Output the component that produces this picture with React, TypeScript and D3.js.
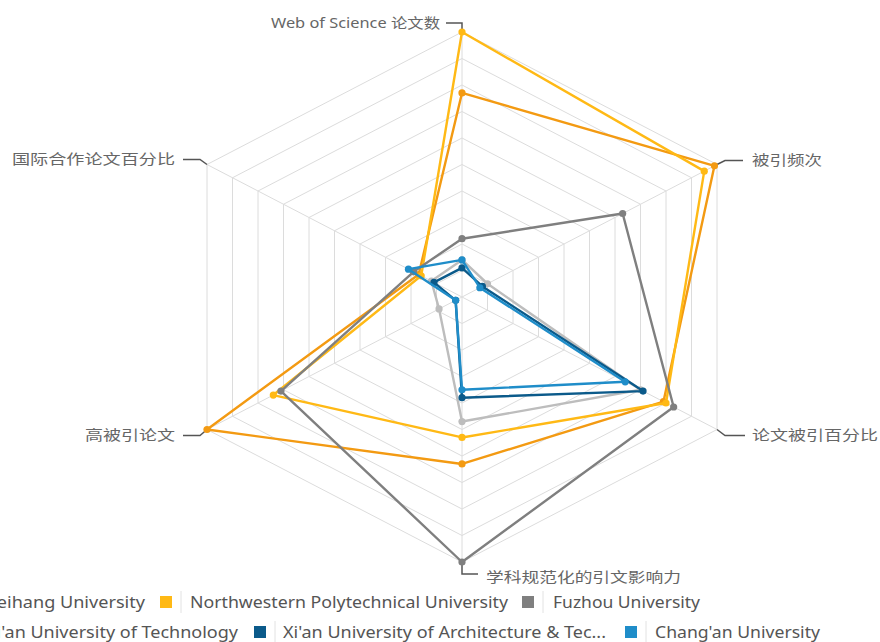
import React from "react";
import * as d3 from "d3";

const axes = ["Web of Science 论文数", "被引频次", "论文被引百分比", "学科规范化的引文影响力", "高被引论文", "国际合作论文百分比"];
const seriesNames = [
  "Beihang University",
  "Northwestern Polytechnical University",
  "Fuzhou University",
  "Xi'an University of Technology",
  "Xi'an University of Architecture & Tec...",
  "Chang'an University",
];
const seriesColors = ["#F39A12", "#FFB915", "#7F7F7F", "#BDBDBD", "#0B5A8A", "#1F8DC9"];
const beihang = [0.77, 0.99, 0.79, 0.63, 1.0, 0.17];
const nwpu = [1.0, 0.95, 0.8, 0.53, 0.74, 0.16];
const fuzhou = [0.22, 0.63, 0.83, 1.0, 0.71, 0.19];
const xianTech = [0.14, 0.1, 0.7, 0.47, 0.09, 0.12];
const xianArch = [0.11, 0.08, 0.71, 0.38, 0.025, 0.11];
const changan = [0.14, 0.07, 0.64, 0.35, 0.025, 0.21];
const seriesValues = [beihang, nwpu, fuzhou, xianTech, xianArch, changan];
const ringLevels = d3.range(1, 11).map((i) => i / 10);

const W = 880;
const H = 642;
const cx = 462;
const cy = 297;
const xr = d3.scaleLinear().domain([0, 1]).range([0, 255 / Math.sin(Math.PI / 3)]);
const yr = d3.scaleLinear().domain([0, 1]).range([0, 265]);
const angle = (i: number) => (i * Math.PI * 2) / axes.length;
const px = (i: number, v: number) => cx + xr(v) * Math.sin(angle(i));
const py = (i: number, v: number) => cy - yr(v) * Math.cos(angle(i));

const FONT = "'Noto Sans', 'Noto Sans CJK SC', sans-serif";

const labelCfg = [
  { lead: (x: number, y: number) => `M${x},${y}V${y - 9}H${x - 16}`, tx: -22, ty: -9, anchor: "end", w: 169 },
  { lead: (x: number, y: number) => `M${x},${y}L${x + 8},${y - 4}H${x + 26}`, tx: 35, ty: -4, anchor: "start", w: 70 },
  { lead: (x: number, y: number) => `M${x},${y}L${x + 8},${y + 6}H${x + 28}`, tx: 35, ty: 6, anchor: "start", w: 126 },
  { lead: (x: number, y: number) => `M${x},${y}V${y + 12}H${x + 16}`, tx: 24, ty: 15, anchor: "start", w: 195 },
  { lead: (x: number, y: number) => `M${x},${y}L${x - 7},${y + 6}H${x - 24}`, tx: -32, ty: 6, anchor: "end", w: 90 },
  { lead: (x: number, y: number) => `M${x},${y}L${x - 7},${y - 5}H${x - 24}`, tx: -32, ty: -5, anchor: "end", w: 163 },
];

const legendRows = [
  [
    { idx: 0, mx: -45, tx: 145, anchor: "end", w: 160 },
    { idx: 1, mx: 160, tx: 190, anchor: "start", w: 318 },
    { idx: 2, mx: 522, tx: 553, anchor: "start", w: 147 },
  ],
  [
    { idx: 3, mx: -45, tx: 238, anchor: "end", w: 252 },
    { idx: 4, mx: 254, tx: 283, anchor: "start", w: 323 },
    { idx: 5, mx: 625, tx: 655, anchor: "start", w: 165 },
  ],
];
const legendY = [602, 632];

export default function App() {
  const line = d3
    .line<number>()
    .x((v, i) => px(i, v))
    .y((v, i) => py(i, v))
    .curve(d3.curveLinearClosed);
  const ring = (lv: number) => line(axes.map(() => lv)) as string;

  return (
    <svg width={W} height={H} style={{ position: "absolute", left: 0, top: 0, background: "#fff" }} fontFamily={FONT}>
      <g>
        {ringLevels.map((lv) => (
          <path key={lv} d={ring(lv)} fill="none" stroke="#DCDCDC" strokeWidth={1} />
        ))}
        {axes.map((_, i) => (
          <line key={i} x1={cx} y1={cy} x2={px(i, 1)} y2={py(i, 1)} stroke="#DCDCDC" strokeWidth={1} />
        ))}
      </g>
      <g>
        {axes.map((name, i) => {
          const x = px(i, 1);
          const y = py(i, 1);
          const c = labelCfg[i];
          return (
            <g key={name}>
              <path d={c.lead(x, y)} fill="none" stroke="#555" strokeWidth={1.5} />
              <text
                x={x + c.tx}
                y={y + c.ty}
                dy="0.35em"
                textAnchor={c.anchor}
                fontSize={14}
                fill="#666"
                textLength={c.w}
                lengthAdjust="spacingAndGlyphs"
              >
                {name}
              </text>
            </g>
          );
        })}
      </g>
      <g>
        {seriesValues.map((vals, s) => (
          <g key={s}>
            <path d={line(vals) as string} fill="none" stroke={seriesColors[s]} strokeWidth={2.4} strokeLinejoin="round" />
            {vals.map((v, i) => (
              <circle key={i} cx={px(i, v)} cy={py(i, v)} r={3.6} fill={seriesColors[s]} />
            ))}
          </g>
        ))}
      </g>
      <g>
        {legendRows.map((row, r) =>
          row.map((it) => (
            <g key={it.idx}>
              <rect x={it.mx} y={legendY[r] - 6} width={12} height={12} fill={seriesColors[it.idx]} />
              <line x1={it.mx + 21} x2={it.mx + 21} y1={legendY[r] - 11} y2={legendY[r] + 11} stroke="#E2E2E2" strokeWidth={1} />
              <text
                x={it.tx}
                y={legendY[r]}
                dy="0.35em"
                fontSize={16}
                fill="#555"
                textAnchor={it.anchor}
                textLength={it.w}
                lengthAdjust="spacingAndGlyphs"
              >
                {seriesNames[it.idx]}
              </text>
            </g>
          ))
        )}
      </g>
    </svg>
  );
}
